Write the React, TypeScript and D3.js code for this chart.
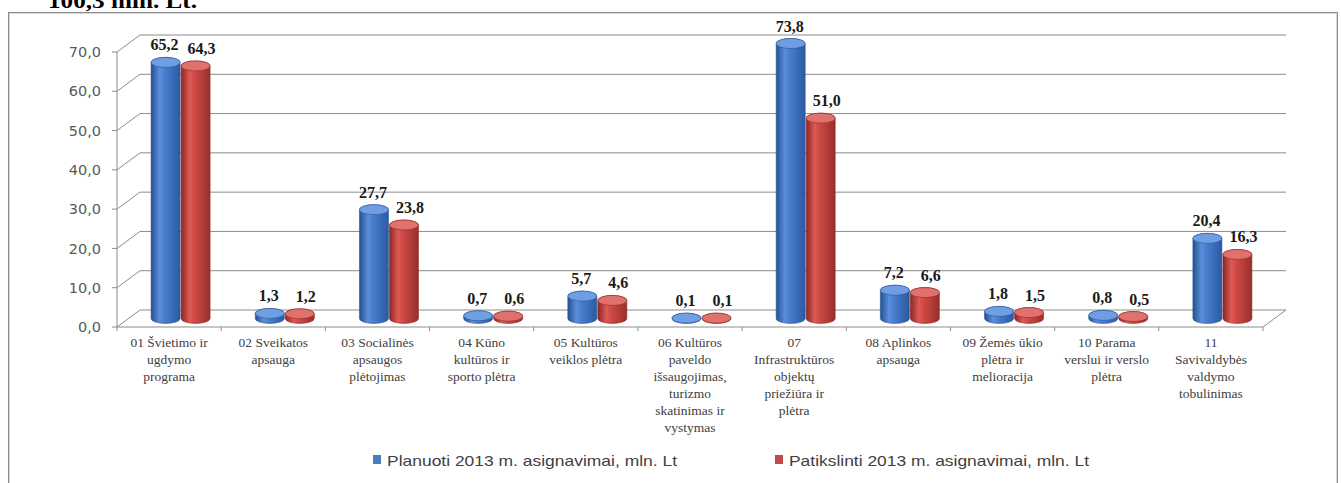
import React from "react";
import * as d3 from "d3";

// category labels, already split into lines like in the original
const categoryLines: string[][] = [
  ["01 Švietimo ir", "ugdymo", "programa"],
  ["02 Sveikatos", "apsauga"],
  ["03 Socialinės", "apsaugos", "plėtojimas"],
  ["04 Kūno", "kultūros ir", "sporto plėtra"],
  ["05 Kultūros", "veiklos plėtra"],
  ["06 Kultūros", "paveldo", "išsaugojimas,", "turizmo", "skatinimas ir", "vystymas"],
  ["07", "Infrastruktūros", "objektų", "priežiūra ir", "plėtra"],
  ["08 Aplinkos", "apsauga"],
  ["09 Žemės ūkio", "plėtra ir", "melioracija"],
  ["10 Parama", "verslui ir verslo", "plėtra"],
  ["11", "Savivaldybės", "valdymo", "tobulinimas"],
];
const categories = categoryLines.map((l) => l.join(" "));

const planned = [65.2, 1.3, 27.7, 0.7, 5.7, 0.1, 73.8, 7.2, 1.8, 0.8, 20.4];
const revised = [64.3, 1.2, 23.8, 0.6, 4.6, 0.1, 51.0, 6.6, 1.5, 0.5, 16.3];

const yTicks = [0, 10, 20, 30, 40, 50, 60, 70];
const seriesNames = [
  "Planuoti 2013 m. asignavimai, mln. Lt",
  "Patikslinti 2013 m. asignavimai, mln. Lt",
];
const headerText = "100,3 mln. Lt.";

const W = 1341;
const H = 483;

const App = () => {
  const x0 = 117;
  const x1 = 1263;
  const DX = 23;
  const DY = -17;

  const x = d3.scaleBand<string>().domain(categories).range([x0, x1]);
  const y = d3.scaleLinear().domain([0, 70]).range([327, 52]);
  const fmt = (v: number) => d3.format(".1f")(v).replace(".", ",");

  const rx = 14.5;
  const ry = 5;
  const series = [
    { values: planned, id: "blue", off: -15, labelOff: -1, top: "#6f9fe2", edge: "#2b5697" },
    { values: revised, id: "red", off: 15, labelOff: 6, top: "#e0716c", edge: "#8f2c29" },
  ];

  const cylinder = (cx: number, top: number, bot: number) =>
    `M${cx - rx},${top} L${cx - rx},${bot} A${rx},${ry} 0 0 0 ${cx + rx},${bot} L${cx + rx},${top} A${rx},${ry} 0 0 0 ${cx - rx},${top} Z`;

  const yBase = y(0);

  // legend placement
  const legend = [
    { x: 373, w: 290, col: "#4a7ebb" },
    { x: 775, w: 300, col: "#be4b48" },
  ];

  return (
    <div style={{ position: "absolute", left: 0, top: 0 }}>
      <svg width={W} height={H} style={{ display: "block", background: "#fff" }}>
        <defs>
          <linearGradient id="g-blue" x1="0" x2="1" y1="0" y2="0">
            <stop offset="0%" stopColor="#24508f" />
            <stop offset="30%" stopColor="#5b8fdc" />
            <stop offset="45%" stopColor="#4a7fcf" />
            <stop offset="100%" stopColor="#2a5aa0" />
          </linearGradient>
          <linearGradient id="g-red" x1="0" x2="1" y1="0" y2="0">
            <stop offset="0%" stopColor="#8a2724" />
            <stop offset="30%" stopColor="#de5a55" />
            <stop offset="45%" stopColor="#cf4a45" />
            <stop offset="100%" stopColor="#982f2b" />
          </linearGradient>
        </defs>

        {/* header text, cut at the top as in the original page */}
        <text
          x={48}
          y={8}
          fontFamily="'Liberation Serif', 'Times New Roman', serif"
          fontWeight="bold"
          fontSize={20}
          textLength={149}
          lengthAdjust="spacingAndGlyphs"
          fill="#000"
        >
          {headerText}
        </text>

        {/* chart frame */}
        <rect x={8.5} y={12.5} width={1329} height={500} fill="none" stroke="#8c8c8c" />
        <rect x={9.5} y={13.5} width={1327} height={500} fill="none" stroke="#d9d9d9" />

        {/* back wall gridlines */}
        {yTicks.map((t) => (
          <line
            key={"g" + t}
            x1={x0 + DX}
            x2={x1 + DX}
            y1={y(t) + DY}
            y2={y(t) + DY}
            stroke="#8c8c8c"
            strokeWidth={1}
          />
        ))}
        {/* left wall diagonals */}
        {yTicks.map((t) => (
          <line
            key={"d" + t}
            x1={x0}
            x2={x0 + DX}
            y1={y(t)}
            y2={y(t) + DY}
            stroke="#8c8c8c"
            strokeWidth={1}
          />
        ))}
        {/* floor */}
        <line x1={x1} x2={x1 + DX} y1={yBase} y2={yBase + DY} stroke="#8c8c8c" />
        <line x1={x0} x2={x1} y1={yBase} y2={yBase} stroke="#8c8c8c" />
        {/* left axis */}
        <line x1={x0} x2={x0} y1={y(70)} y2={yBase} stroke="#8c8c8c" />
        {yTicks.map((t) => (
          <g key={"t" + t}>
            <line x1={x0 - 5} x2={x0} y1={y(t)} y2={y(t)} stroke="#8c8c8c" />
            <text
              x={x0 - 16}
              y={y(t)}
              dy="0.35em"
              textAnchor="end"
              fontFamily="'DejaVu Sans', Verdana, sans-serif"
              fontSize={14.5}
              fill="#595959"
            >
              {fmt(t)}
            </text>
          </g>
        ))}
        {/* category ticks */}
        {categories.map((c) => (
          <line
            key={"ct" + c}
            x1={x(c)!}
            x2={x(c)!}
            y1={yBase}
            y2={yBase + 4}
            stroke="#8c8c8c"
          />
        ))}
        <line x1={x1} x2={x1} y1={yBase} y2={yBase + 4} stroke="#8c8c8c" />

        {/* bars */}
        {categories.map((c, i) => {
          const mid = x(c)! + x.bandwidth() / 2 + DX / 2;
          const bot = yBase + DY / 2;
          return (
            <g key={"b" + c}>
              {series.map((s) => {
                const v = s.values[i];
                const cx = mid + s.off;
                const top = y(Math.min(v, 70)) + DY / 2;
                return (
                  <g key={s.id}>
                    <path d={cylinder(cx, top, bot)} fill={`url(#g-${s.id})`} stroke={s.edge} strokeWidth={0.6} />
                    <ellipse cx={cx} cy={top} rx={rx} ry={ry} fill={s.top} stroke={s.edge} strokeWidth={0.6} />
                  </g>
                );
              })}
            </g>
          );
        })}

        {/* value labels */}
        {categories.map((c, i) => {
          const mid = x(c)! + x.bandwidth() / 2 + DX / 2;
          return series.map((s) => {
            const v = s.values[i];
            const top = y(Math.min(v, 70)) + DY / 2;
            return (
              <text
                key={"l" + c + s.id}
                x={mid + s.off + s.labelOff}
                y={top - ry - 7}
                textAnchor="middle"
                fontFamily="'Liberation Serif', 'Times New Roman', serif"
                fontWeight="bold"
                fontSize={16}
                fill="#1a1a1a"
              >
                {fmt(v)}
              </text>
            );
          });
        })}

        {/* category labels */}
        {categoryLines.map((lines, i) => (
          <text
            key={"cl" + i}
            x={x(categories[i])! + x.bandwidth() / 2}
            y={347}
            textAnchor="middle"
            fontFamily="'Liberation Serif', 'Times New Roman', serif"
            fontSize={13.5}
            fill="#404040"
          >
            {lines.map((ln, k) => (
              <tspan key={k} x={x(categories[i])! + x.bandwidth() / 2} dy={k === 0 ? 0 : 17}>
                {ln}
              </tspan>
            ))}
          </text>
        ))}

        {/* legend */}
        {seriesNames.map((name, k) => (
          <g key={name}>
            <rect x={legend[k].x} y={455} width={8} height={9} fill={legend[k].col} />
            <text
              x={legend[k].x + 14}
              y={466}
              fontFamily="'Liberation Sans', Arial, sans-serif"
              fontSize={15}
              textLength={legend[k].w}
              lengthAdjust="spacingAndGlyphs"
              fill="#404040"
            >
              {name}
            </text>
          </g>
        ))}
      </svg>
    </div>
  );
};

export default App;
